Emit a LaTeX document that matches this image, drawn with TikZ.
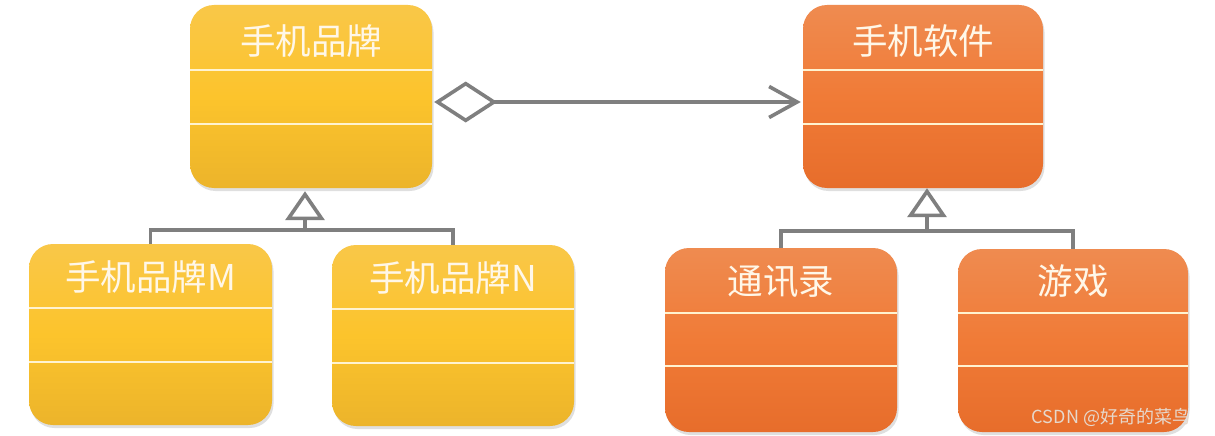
\documentclass[tikz,border=0pt]{standalone}
\usepackage{fontspec}
\setmainfont{Noto Sans CJK SC}
\usetikzlibrary{arrows.meta,shadows,calc}
\definecolor{ytop}{HTML}{F9C748}
\definecolor{ymid}{HTML}{FCC42C}
\definecolor{ybot}{HTML}{ECB42B}
\definecolor{otop}{HTML}{EF8B50}
\definecolor{omid}{HTML}{F07B37}
\definecolor{obot}{HTML}{E76D2B}
\definecolor{linegray}{HTML}{7F7F7F}
\definecolor{txt}{HTML}{FFF7E8}
\definecolor{sepc}{HTML}{FFF3D0}
\definecolor{wmc}{HTML}{E6D8CC}
\tikzset{
  boxbase/.style={rounded corners=24pt, inner sep=0pt,
    drop shadow={opacity=0.25, shadow xshift=1.5pt, shadow yshift=-3pt}},
  ybox/.style={boxbase, top color=ytop, bottom color=ybot, middle color=ymid},
  obox/.style={boxbase, top color=otop, bottom color=obot, middle color=omid},
  title/.style={text=txt, font=\fontsize{35.5}{40}\selectfont, inner sep=0pt},
  sepline/.style={draw=sepc, line width=1.3pt},
  conn/.style={draw=linegray, line width=3.6pt},
  inhtip/.style={-{Triangle[open, fill=white, length=29pt, width=39pt, line width=3.6pt]}},
}
\newcommand{\umlbox}[8]{% name, style, x1, y1, x2, y2, text, texty
  \node[#2, minimum width={(#5-#3)*1pt}, minimum height={(#6-#4)*1pt}] (#1) at ({(#3+#5)/2},{(#4+#6)/2}) {};
  \node[title] (#1-t) at ({(#3+#5)/2},#8) {#7};
}
\begin{document}
\begin{tikzpicture}[x=1pt,y=-1pt]
\useasboundingbox (0,0) rectangle (1215,436);
\fill[white] (0,0) rectangle (1215,436);
% boxes
\umlbox{A}{ybox}{190}{5}{432}{188}{手机品牌}{41}
\umlbox{B}{obox}{803}{5}{1043}{188}{手机软件}{41}
\umlbox{M}{ybox}{29}{244}{272}{425}{手机品牌M}{277}
\umlbox{N}{ybox}{332}{245}{574}{426}{手机品牌N}{278}
\umlbox{T}{obox}{665}{248}{897}{432}{通讯录}{282}
\umlbox{G}{obox}{958}{249}{1188}{432}{游戏}{281}
% separators
\draw[sepline] (A.west |- 0,70) -- (A.east |- 0,70);
\draw[sepline] (A.west |- 0,124) -- (A.east |- 0,124);
\draw[sepline] (B.west |- 0,70) -- (B.east |- 0,70);
\draw[sepline] (B.west |- 0,124) -- (B.east |- 0,124);
\draw[sepline] (M.west |- 0,308) -- (M.east |- 0,308);
\draw[sepline] (M.west |- 0,362) -- (M.east |- 0,362);
\draw[sepline] (N.west |- 0,309) -- (N.east |- 0,309);
\draw[sepline] (N.west |- 0,363) -- (N.east |- 0,363);
\draw[sepline] (T.west |- 0,313) -- (T.east |- 0,313);
\draw[sepline] (T.west |- 0,366) -- (T.east |- 0,366);
\draw[sepline] (G.west |- 0,313) -- (G.east |- 0,313);
\draw[sepline] (G.west |- 0,366) -- (G.east |- 0,366);
% aggregation
\draw[conn, line join=miter,
  {Diamond[open, fill=white, length=63pt, width=41pt, line width=3.6pt]}-{Straight Barb[length=28pt, width=31pt, line width=3.6pt]},
  shorten <=2pt, shorten >=2pt]
  (A.east |- 0,102) -- (B.west |- 0,102);
% inheritance left
\coordinate (jA) at (305,230);
\draw[conn] (M.north) |- (jA) -| (N.north);
\draw[conn, inhtip, shorten >=3pt] (jA) -- (jA |- A.south);
% inheritance right
\coordinate (jB) at (927,231);
\draw[conn] (T.north) |- (jB) -| (G.north);
\draw[conn, inhtip, shorten >=0pt] (jB) -- (jB |- B.south);
% watermark
\node[text=wmc, font=\fontsize{18}{21}\selectfont, inner sep=0pt] (wm) at (1111,417) {CSDN @好奇的菜鸟};
\end{tikzpicture}
\end{document}
